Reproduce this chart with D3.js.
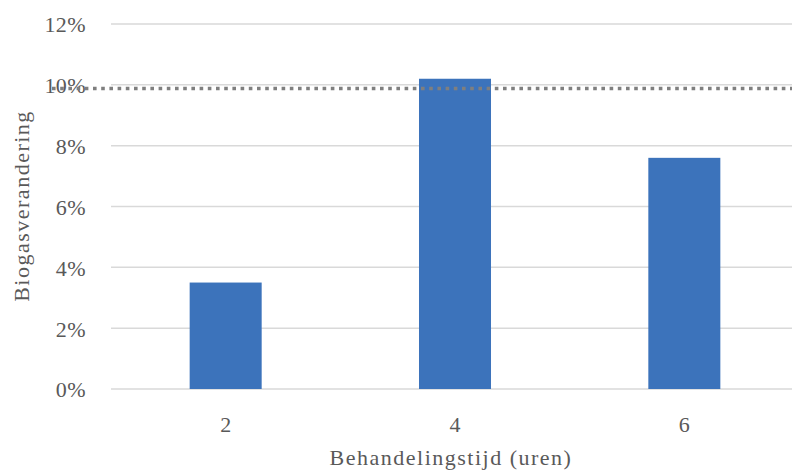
<!DOCTYPE html>
<html>
<head>
<meta charset="utf-8">
<script src="https://cdn.jsdelivr.net/npm/d3@7"></script>
<style>
  html, body { margin: 0; padding: 0; background: #fff; }
  svg { display: block; }
  text { font-family: "Liberation Serif", "DejaVu Serif", serif; fill: #595959; }
</style>
</head>
<body>
<svg id="chart" width="792" height="476"></svg>
<script>
// Data
const categories = ["2", "4", "6"];
const values = [0.035, 0.102, 0.076];
const referenceValue = 0.0988;
const yTicks = [0, 0.02, 0.04, 0.06, 0.08, 0.10, 0.12];
const xTitle = "Behandelingstijd (uren)";
const yTitle = "Biogasverandering";

const svg = d3.select("#chart");
const plot = { left: 111, right: 799, top: 24, bottom: 389 };

const x = d3.scaleBand()
  .domain(categories)
  .range([plot.left, plot.right])
  .paddingInner(0.686)
  .paddingOuter(0.343);

const y = d3.scaleLinear()
  .domain([0, 0.12])
  .range([plot.bottom, plot.top]);

const fmt = d3.format(".0%");

// Gridlines
svg.append("g")
  .selectAll("line")
  .data(yTicks)
  .join("line")
  .attr("x1", plot.left)
  .attr("x2", plot.right)
  .attr("y1", d => y(d))
  .attr("y2", d => y(d))
  .attr("stroke", "#d9d9d9")
  .attr("stroke-width", 1.5);

// Y axis labels
const yAxis = d3.axisLeft(y).tickValues(yTicks).tickFormat(fmt).tickSize(0).tickPadding(0);
const gy = svg.append("g")
  .attr("transform", `translate(86,0)`)
  .call(yAxis);
gy.select(".domain").remove();
gy.selectAll("text")
  .attr("font-family", "Liberation Serif")
  .attr("font-size", 22)
  .attr("fill", "#595959")
  .attr("letter-spacing", 0.4)
  .attr("dy", "0.36em");

// Bars
svg.append("g")
  .selectAll("rect")
  .data(values)
  .join("rect")
  .attr("x", (d, i) => x(categories[i]))
  .attr("width", x.bandwidth())
  .attr("y", d => y(d))
  .attr("height", d => y(0) - y(d))
  .attr("fill", "#3c73bb");

// X axis labels
const xAxis = d3.axisBottom(x).tickSize(0).tickPadding(0);
const gx = svg.append("g")
  .attr("transform", `translate(0,${plot.bottom})`)
  .call(xAxis);
gx.select(".domain").remove();
gx.selectAll("text")
  .attr("font-family", "Liberation Serif")
  .attr("font-size", 22)
  .attr("fill", "#595959")
  .attr("dy", null)
  .attr("y", 43);

// Reference dotted line
svg.append("line")
  .attr("x1", 52)
  .attr("x2", 792)
  .attr("y1", y(referenceValue))
  .attr("y2", y(referenceValue))
  .attr("stroke", "#7f7f7f")
  .attr("stroke-width", 3.5)
  .attr("stroke-dasharray", "3.6,4.6");

// Axis titles
svg.append("text")
  .attr("x", 451)
  .attr("y", 465)
  .attr("text-anchor", "middle")
  .attr("font-size", 22)
  .attr("letter-spacing", 1.5)
  .text(xTitle);

svg.append("text")
  .attr("transform", "translate(29,206) rotate(-90)")
  .attr("text-anchor", "middle")
  .attr("font-size", 22)
  .attr("letter-spacing", 1.5)
  .text(yTitle);
</script>
</body>
</html>
